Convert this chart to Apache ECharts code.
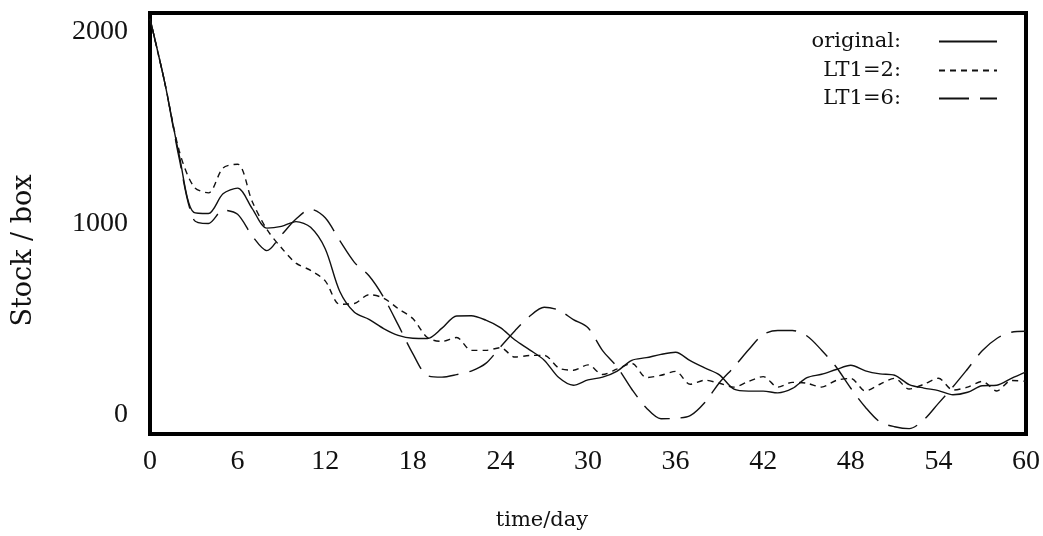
<!DOCTYPE html>
<html>
<head>
<meta charset="utf-8">
<script src="https://cdn.jsdelivr.net/npm/echarts@6/dist/echarts.min.js"></script>
<style>html,body{margin:0;padding:0;background:#fff}#c{width:1043px;height:536px}</style>
</head>
<body>
<div id="c"></div>
<script>
const days = Array.from({length: 61}, (_, i) => i);
const xTicks = [0, 6, 12, 18, 24, 30, 36, 42, 48, 54, 60];
const yTicks = [0, 1000, 2000];
const seriesNames = ['original:', 'LT1=2:', 'LT1=6:'];
const original = [2070,1740,1357,1058,1052,1155,1185,1078,976,985,1010,980,868,645,536,499,451,415,400,399,453,517,518,495,456,391,340,286,195,155,183,197,229,285,299,316,327,283,245,209,134,124,124,115,138,194,212,237,259,230,214,207,158,140,127,105,118,152,155,191,225];
const lt2 = [2070,1740,1380,1192,1160,1290,1310,1115,970,873,793,755,700,578,582,628,610,555,503,404,384,404,337,337,351,302,310,311,245,233,261,211,240,269,195,207,227,160,181,165,145,175,200,145,170,165,145,180,190,125,160,191,135,160,191,130,145,175,125,180,175];
const lt6 = [2070,1740,1340,1020,1000,1070,1048,935,858,940,1023,1075,1030,910,797,727,615,470,320,205,197,210,229,269,355,440,515,562,547,498,455,336,250,134,36,-20,-18,-4,65,168,250,340,420,441,441,412,338,250,139,40,-37,-62,-72,-26,60,147,240,335,399,432,437];

const pair = arr => days.map((d, i) => [d, arr[i]]);
const serif = 'Liberation Serif';
const titleFont = 'DejaVu Serif';
const ink = '#111';

const mk = (name, arr, type) => ({
  name, type: 'line', data: pair(arr), showSymbol: false, symbol: 'none',
  smooth: 0.3, animation: false,
  lineStyle: {color: ink, width: 1.4, type},
  itemStyle: {color: ink}
});

const legendRow = (name, top) => ({
  data: [name], orient: 'horizontal', right: 45, top, padding: 0,
  align: 'right', itemWidth: 58, itemHeight: 14, selectedMode: false,
  itemStyle: {color: 'rgba(0,0,0,0)', borderWidth: 0, opacity: 0},
  textStyle: {fontFamily: titleFont, fontSize: 21, color: ink, padding: [0, 33, 0, 0]}
});

const chart = echarts.init(document.getElementById('c'));
chart.setOption({
  animation: false,
  backgroundColor: '#fff',
  grid: {left: 150, right: 15, top: 13, bottom: 100, show: true, borderColor: '#000', borderWidth: 4, backgroundColor: 'transparent'},
  legend: [legendRow(seriesNames[0], 31), legendRow(seriesNames[1], 60), legendRow(seriesNames[2], 88)],
  xAxis: {
    type: 'value', min: 0, max: 60, interval: 6,
    name: 'time/day', nameLocation: 'middle', nameGap: 76,
    nameTextStyle: {fontFamily: titleFont, fontSize: 21, color: ink, padding: [0, 92, 0, 0]},
    axisLine: {show: false}, axisTick: {show: false}, splitLine: {show: false},
    axisLabel: {fontFamily: serif, fontSize: 28, color: ink, margin: 14,
      formatter: v => xTicks.includes(v) ? String(v) : ''}
  },
  yAxis: {
    type: 'value', min: -100, max: 2100, interval: 100,
    name: 'Stock / box', nameLocation: 'middle', nameGap: 113,
    nameTextStyle: {fontFamily: titleFont, fontSize: 27, color: ink, padding: [0, 54, 0, 0]},
    axisLine: {show: false}, axisTick: {show: false}, splitLine: {show: false},
    axisLabel: {fontFamily: serif, fontSize: 28, color: ink, margin: 22,
      formatter: v => yTicks.includes(v) ? String(v) : ''}
  },
  series: [mk(seriesNames[0], original, 'solid'), mk(seriesNames[1], lt2, [6, 5]), mk(seriesNames[2], lt6, [30, 11])]
});
</script>
</body>
</html>
